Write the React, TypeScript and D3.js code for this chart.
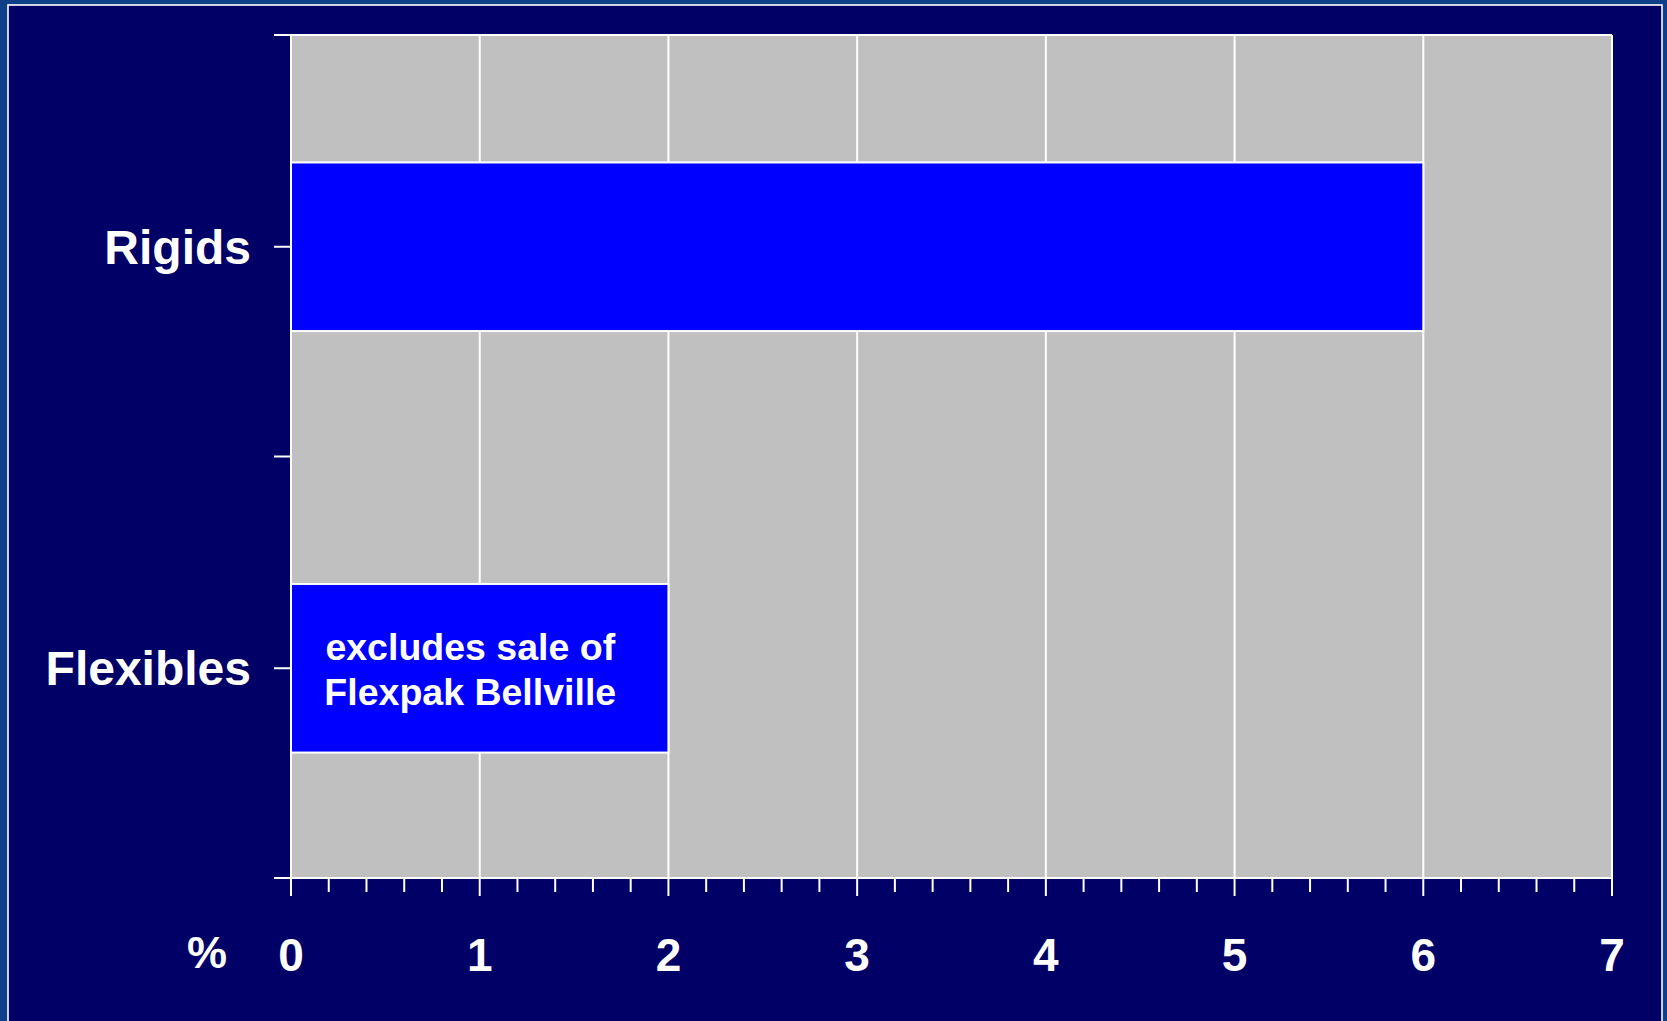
import React from "react";
import * as d3 from "d3";

const categories = ["Rigids", "Flexibles"];
const values = [6, 2];
const xTicks = [0, 1, 2, 3, 4, 5, 6, 7];
const annotationLines = ["excludes sale of", "Flexpak Bellville"];
const unitLabel = "%";

const W = 1667;
const H = 1021;
const M = { left: 291, right: 1612, top: 35, bottom: 878 };
const FONT = "'Liberation Sans', Arial, Helvetica, sans-serif";

export default function App() {
  const x = d3.scaleLinear().domain([0, 7]).range([M.left, M.right]);
  const y = d3
    .scaleBand<string>()
    .domain(categories)
    .range([M.top + 1, M.bottom + 1])
    .paddingInner(0.6)
    .paddingOuter(0.3);
  const step = y.step();
  const minorTicks = d3.range(0, 7.0001, 0.2).map((v) => +v.toFixed(1));
  const leftTicks = [M.top, ...categories.map((c) => (y(c) as number) + y.bandwidth() / 2), M.top + step, M.bottom];

  const flexY = y("Flexibles") as number;
  const annX = x(0.95);

  return (
    <div style={{ position: "absolute", left: 0, top: 0 }}>
      <svg width={W} height={H} style={{ display: "block" }}>
        <rect x={0} y={0} width={W} height={H} fill="#0f3f87" />
        <rect x={8} y={5} width={1654} height={1030} fill="#000066" stroke="#ffffff" strokeWidth={1.6} />
        {/* plot area */}
        <rect x={M.left} y={M.top} width={M.right - M.left} height={M.bottom - M.top} fill="#c0c0c0" />
        {xTicks.map((t) => (
          <line key={"g" + t} x1={x(t)} x2={x(t)} y1={M.top} y2={M.bottom} stroke="#ffffff" strokeWidth={2} />
        ))}
        <line x1={M.left} x2={M.right} y1={M.top} y2={M.top} stroke="#ffffff" strokeWidth={2} />
        {/* bars */}
        {categories.map((c, i) => (
          <rect
            key={c}
            x={x(0)}
            y={y(c) as number}
            width={x(values[i]) - x(0)}
            height={y.bandwidth()}
            fill="#0000ff"
            stroke="#ffffff"
            strokeWidth={2}
          />
        ))}
        {/* annotation */}
        <text fill="#ffffff" fontFamily={FONT} fontWeight="bold" fontSize={37.5} textAnchor="middle">
          {annotationLines.map((l, i) => (
            <tspan key={i} x={annX} y={flexY + 76 + i * 45}>
              {l}
            </tspan>
          ))}
        </text>
        {/* axes */}
        <line x1={M.left} x2={M.left} y1={M.top} y2={M.bottom} stroke="#ffffff" strokeWidth={2} />
        <line x1={M.left} x2={M.right} y1={M.bottom} y2={M.bottom} stroke="#ffffff" strokeWidth={2} />
        {leftTicks.map((t, i) => (
          <line key={"lt" + i} x1={M.left - 17} x2={M.left} y1={t} y2={t} stroke="#ffffff" strokeWidth={2} />
        ))}
        {minorTicks.map((t, i) => (
          <line
            key={"mt" + i}
            x1={x(t)}
            x2={x(t)}
            y1={M.bottom}
            y2={M.bottom + (Math.abs(t - Math.round(t)) < 1e-6 ? 18 : 14)}
            stroke="#ffffff"
            strokeWidth={2}
          />
        ))}
        {xTicks.map((t) => (
          <text
            key={"xl" + t}
            x={x(t)}
            y={971}
            fill="#ffffff"
            fontFamily={FONT}
            fontWeight="bold"
            fontSize={46}
            textAnchor="middle"
          >
            {t}
          </text>
        ))}
        <text x={227} y={968} fill="#ffffff" fontFamily={FONT} fontWeight="bold" fontSize={45} textAnchor="end">
          {unitLabel}
        </text>
        {categories.map((c) => (
          <text
            key={"cl" + c}
            x={251}
            y={(y(c) as number) + y.bandwidth() / 2 + 17}
            fill="#ffffff"
            fontFamily={FONT}
            fontWeight="bold"
            fontSize={48}
            textAnchor="end"
          >
            {c}
          </text>
        ))}
      </svg>
    </div>
  );
}
